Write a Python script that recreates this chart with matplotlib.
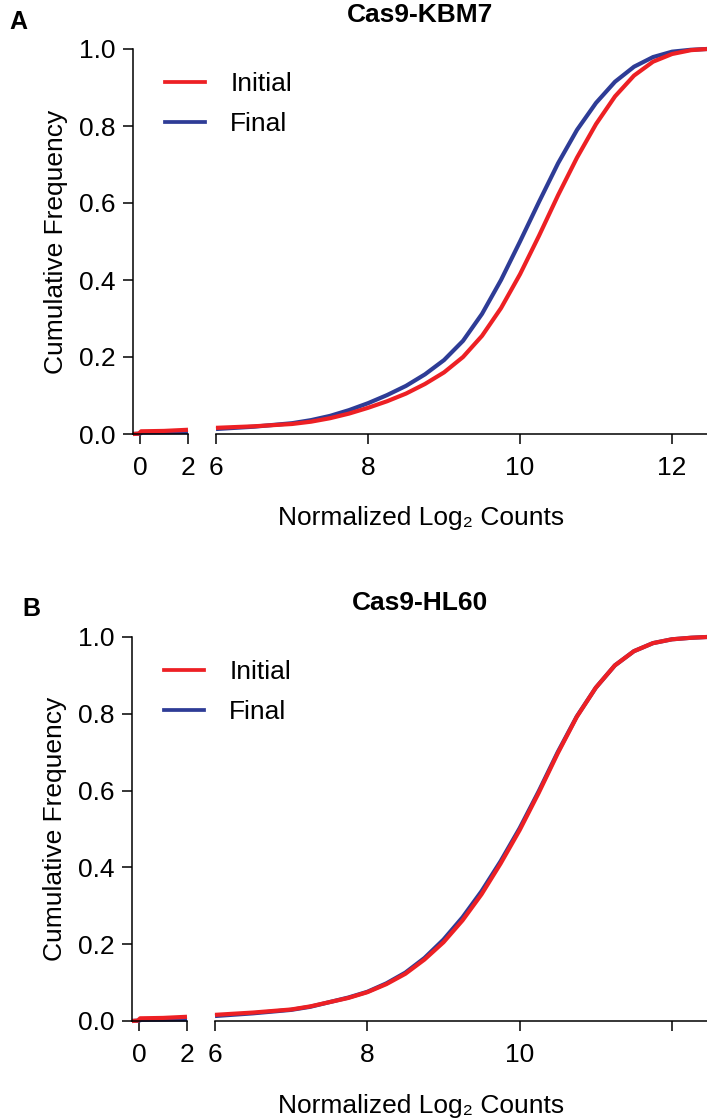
import matplotlib
matplotlib.use("Agg")
import matplotlib.pyplot as plt
from matplotlib.lines import Line2D

plt.rcParams['font.family'] = ['Liberation Sans', 'DejaVu Sans']

# ---------------- data ----------------
titles = ["Cas9-KBM7", "Cas9-HL60"]
panel_letters = ["A", "B"]
series_names = ["Initial", "Final"]

# left (0-2) segment of the broken axis
a_init_left_x = [-0.29, -0.05, 0.05, 1.0, 2.0]
a_init_left_y = [0.0, 0.001, 0.007, 0.008, 0.011]
a_final_left_x = [-0.29, 0.0, 0.1, 2.0]
a_final_left_y = [0.0, 0.001, 0.004, 0.005]

# right (6-12.5) segment
a_x = [6.0, 6.5, 7.0, 7.25, 7.5, 7.75, 8.0, 8.25, 8.5, 8.75, 9.0, 9.25, 9.5, 9.75,
       10.0, 10.25, 10.5, 10.75, 11.0, 11.25, 11.5, 11.75, 12.0, 12.25, 12.46]
a_initial = [0.016, 0.020, 0.026, 0.032, 0.041, 0.053, 0.068, 0.085, 0.105, 0.130,
             0.160, 0.200, 0.255, 0.327, 0.415, 0.515, 0.620, 0.718, 0.805, 0.877,
             0.931, 0.967, 0.987, 0.997, 1.0]
a_final = [0.013, 0.019, 0.028, 0.036, 0.047, 0.062, 0.080, 0.101, 0.125, 0.155,
           0.192, 0.242, 0.312, 0.400, 0.500, 0.603, 0.703, 0.790, 0.860, 0.915,
           0.954, 0.979, 0.993, 0.998, 1.0]

b_init_left_x = [-0.29, -0.05, 0.05, 1.0, 2.0]
b_init_left_y = [0.0, 0.001, 0.007, 0.008, 0.011]
b_final_left_x = [-0.29, 0.0, 0.1, 2.0]
b_final_left_y = [0.0, 0.001, 0.003, 0.004]

b_x = [6.0, 6.5, 7.0, 7.25, 7.5, 7.75, 8.0, 8.25, 8.5, 8.75, 9.0, 9.25, 9.5, 9.75,
       10.0, 10.25, 10.5, 10.75, 11.0, 11.25, 11.5, 11.75, 12.0, 12.25, 12.46]
b_initial = [0.016, 0.022, 0.030, 0.038, 0.049, 0.060, 0.075, 0.096, 0.123, 0.160,
             0.205, 0.262, 0.330, 0.410, 0.497, 0.594, 0.697, 0.792, 0.868, 0.926,
             0.963, 0.984, 0.994, 0.998, 1.0]
b_final = [0.013, 0.020, 0.029, 0.037, 0.049, 0.061, 0.076, 0.098, 0.126, 0.164,
           0.212, 0.270, 0.338, 0.416, 0.502, 0.598, 0.700, 0.793, 0.868, 0.926,
           0.963, 0.984, 0.994, 0.998, 1.0]

left_ticks = [0, 2]
right_ticks_a = [6, 8, 10, 12]
right_labels_a = ["6", "8", "10", "12"]
right_ticks_b = [6, 8, 10, 12]
right_labels_b = ["6", "8", "10", ""]
y_ticks = [0.0, 0.2, 0.4, 0.6, 0.8, 1.0]

RED = '#ED2024'
BLUE = '#2E3C96'
FS = 19
LW = 3.0

W, H = 707, 1120
fig = plt.figure(figsize=(W / 100, H / 100), dpi=100)


def fx(px):
    return px / W


def fy(py):
    return 1 - py / H


panels = [
    dict(top=49, bot=434, lx0=133, lx1=188, rx0=216, rx1=707,
         il=(a_init_left_x, a_init_left_y), fl=(a_final_left_x, a_final_left_y),
         x=a_x, ini=a_initial, fin=a_final, rt=right_ticks_a, rl=right_labels_a,
         title_y=15, letter=(18, 22), leg=(165, 72), xlabel_y=518),
    dict(top=637, bot=1021, lx0=132, lx1=187, rx0=215, rx1=707,
         il=(b_init_left_x, b_init_left_y), fl=(b_final_left_x, b_final_left_y),
         x=b_x, ini=b_initial, fin=b_final, rt=right_ticks_b, rl=right_labels_b,
         title_y=603, letter=(31, 609), leg=(164, 660), xlabel_y=1106),
]

for i, p in enumerate(panels):
    h = (p['bot'] - p['top']) / H
    b = fy(p['bot'])
    axL = fig.add_axes([fx(p['lx0']), b, (p['lx1'] - p['lx0']) / W, h])
    axR = fig.add_axes([fx(p['rx0']), b, (p['rx1'] - p['rx0']) / W, h])

    for ax in (axL, axR):
        ax.set_ylim(0, 1)
        ax.spines['top'].set_visible(False)
        ax.spines['right'].set_visible(False)
        ax.spines['bottom'].set_linewidth(1.1)
        ax.spines['left'].set_linewidth(1.1)
        ax.tick_params(which='major', direction='out', length=7.5, width=1.1,
                       labelsize=FS, pad=8)
        ax.patch.set_alpha(0)

    # left segment
    axL.set_xlim(-0.29, 2.0)
    axL.set_xticks(left_ticks)
    axL.set_xticklabels([str(t) for t in left_ticks])
    axL.set_xticks([2], minor=True)
    axL.tick_params(axis='x', which='minor', direction='inout', length=15, width=1.1)
    axL.set_yticks(y_ticks)
    axL.set_yticklabels([f"{v:.1f}" for v in y_ticks])
    axL.tick_params(axis='y', pad=5)
    axL.plot(p['fl'][0], p['fl'][1], color=BLUE, lw=LW, clip_on=False,
             solid_capstyle='butt', solid_joinstyle='round')
    axL.plot(p['il'][0], p['il'][1], color=RED, lw=LW, clip_on=False,
             solid_capstyle='butt', solid_joinstyle='round')
    axL.set_ylabel("Cumulative Frequency", fontsize=FS, labelpad=8)

    # right segment
    axR.spines['left'].set_visible(False)
    axR.set_xlim(6, 12.46)
    axR.set_xticks(p['rt'])
    axR.set_xticklabels(p['rl'])
    axR.set_xticks([6], minor=True)
    axR.tick_params(axis='x', which='minor', direction='inout', length=15, width=1.1)
    axR.set_yticks([])
    axR.plot(p['x'], p['fin'], color=BLUE, lw=LW, clip_on=False,
             solid_capstyle='butt', solid_joinstyle='round')
    axR.plot(p['x'], p['ini'], color=RED, lw=LW, clip_on=False,
             solid_capstyle='butt', solid_joinstyle='round')

    handles = [Line2D([], [], color=RED, lw=LW * 0.9),
               Line2D([], [], color=BLUE, lw=LW * 0.9)]
    fig.legend(handles, series_names, loc='upper left',
               bbox_to_anchor=(fx(p['leg'][0]), fy(p['leg'][1])),
               bbox_transform=fig.transFigure, frameon=False, fontsize=FS,
               handlelength=1.52, handletextpad=0.95, labelspacing=0.62,
               borderpad=0, borderaxespad=0)

    fig.text(fx(420), fy(p['title_y']), titles[i], ha='center', va='center',
             fontsize=19, fontweight='bold')
    fig.text(fx(p['letter'][0]), fy(p['letter'][1]), panel_letters[i],
             ha='center', va='center', fontsize=18, fontweight='bold')
    fig.text(fx(421), fy(p['xlabel_y']), "Normalized Log\u2082 Counts",
             ha='center', va='center', fontsize=FS)

fig.savefig("out.png", dpi=100)
